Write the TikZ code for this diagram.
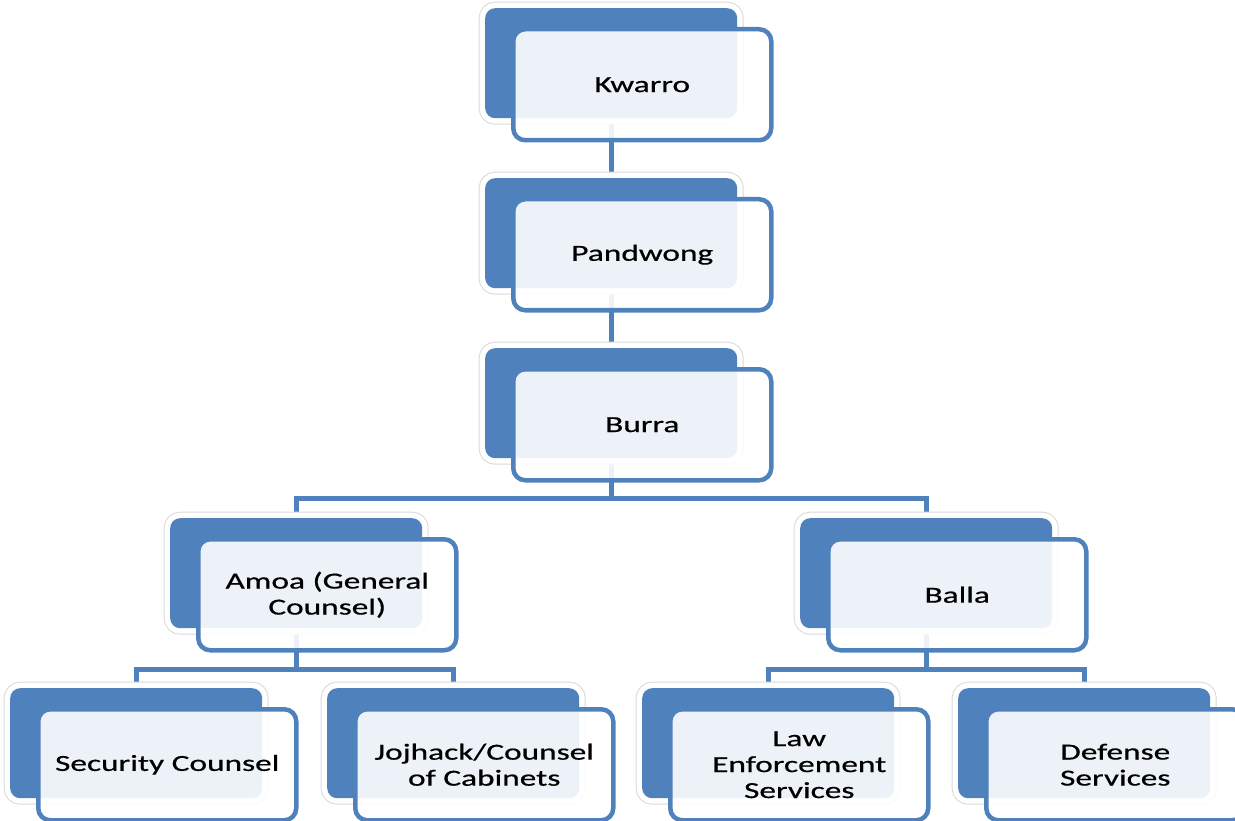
\documentclass[tikz,border=0pt]{standalone}
\usepackage{fontspec}
\setmainfont{Carlito}[FakeStretch=1.45,FakeBold=0.6]
\definecolor{ofblue}{HTML}{4F81BD}
\pgfdeclarelayer{bg}
\pgfsetlayers{bg,main}
\begin{document}
\begin{tikzpicture}[x=1pt,y=-1pt,
  backbox/.style={rectangle, anchor=north west, inner sep=0pt,
    minimum width=252pt, minimum height=110pt, rounded corners=10pt,
    fill=ofblue,
    preaction={draw=black!15, line width=13pt},
    preaction={draw=white, line width=11pt}},
  frontbox/.style={rectangle, anchor=north west, inner sep=0pt,
    minimum width=258pt, minimum height=111pt, rounded corners=12pt,
    draw=ofblue, line width=4.5pt, fill=white, fill opacity=0.9,
    text opacity=1, align=center, text=black,
    font=\fontsize{23}{26}\selectfont},
  link/.style={draw=ofblue, line width=5pt}]
\useasboundingbox (0,0) rectangle (1235,821);

% Kwarro
\node[backbox] (kwB) at (485,8) {};
\node[frontbox] (kwF) at (511,27) {Kwarro};
% Pandwong
\node[backbox] (paB) at (485,178) {};
\node[frontbox] (paF) at (511,197) {Pandwong};
% Burra
\node[backbox] (buB) at (485,348) {};
\node[frontbox] (buF) at (511,367) {Burra};
% Amoa
\node[backbox] (amB) at (170,518) {};
\node[frontbox] (amF) at (196,537) {Amoa (General\\Counsel)};
% Balla
\node[backbox] (baB) at (800,518) {};
\node[frontbox] (baF) at (826,537) {Balla};
% Security Counsel
\node[backbox] (seB) at (10,688) {};
\node[frontbox] (seF) at (36,707) {Security Counsel};
% Jojhack
\node[backbox] (joB) at (327,688) {};
\node[frontbox] (joF) at (353,707) {Jojhack/Counsel\\of Cabinets};
% Law Enforcement
\node[backbox] (laB) at (642,688) {};
\node[frontbox] (laF) at (668,707) {Law\\Enforcement\\Services};
% Defense
\node[backbox] (deB) at (958,688) {};
\node[frontbox] (deF) at (984,707) {Defense\\Services};

\coordinate (busA) at (0,498);
\coordinate (busB) at (0,669);

\begin{pgfonlayer}{bg}
  \draw[link] (kwB.south) -- (paB.north);
  \draw[link] (paB.south) -- (buB.north);
  \draw[link] (buB.south) -- (buB.south |- busA) -| (amB.north);
  \draw[link] (buB.south |- busA) -| (baB.north);
  \draw[link] (amB.south) -- (amB.south |- busB) -| (seB.north);
  \draw[link] (amB.south |- busB) -| (joB.north);
  \draw[link] (baB.south) -- (baB.south |- busB) -| (laB.north);
  \draw[link] (baB.south |- busB) -| (deB.north);
\end{pgfonlayer}
\end{tikzpicture}
\end{document}
